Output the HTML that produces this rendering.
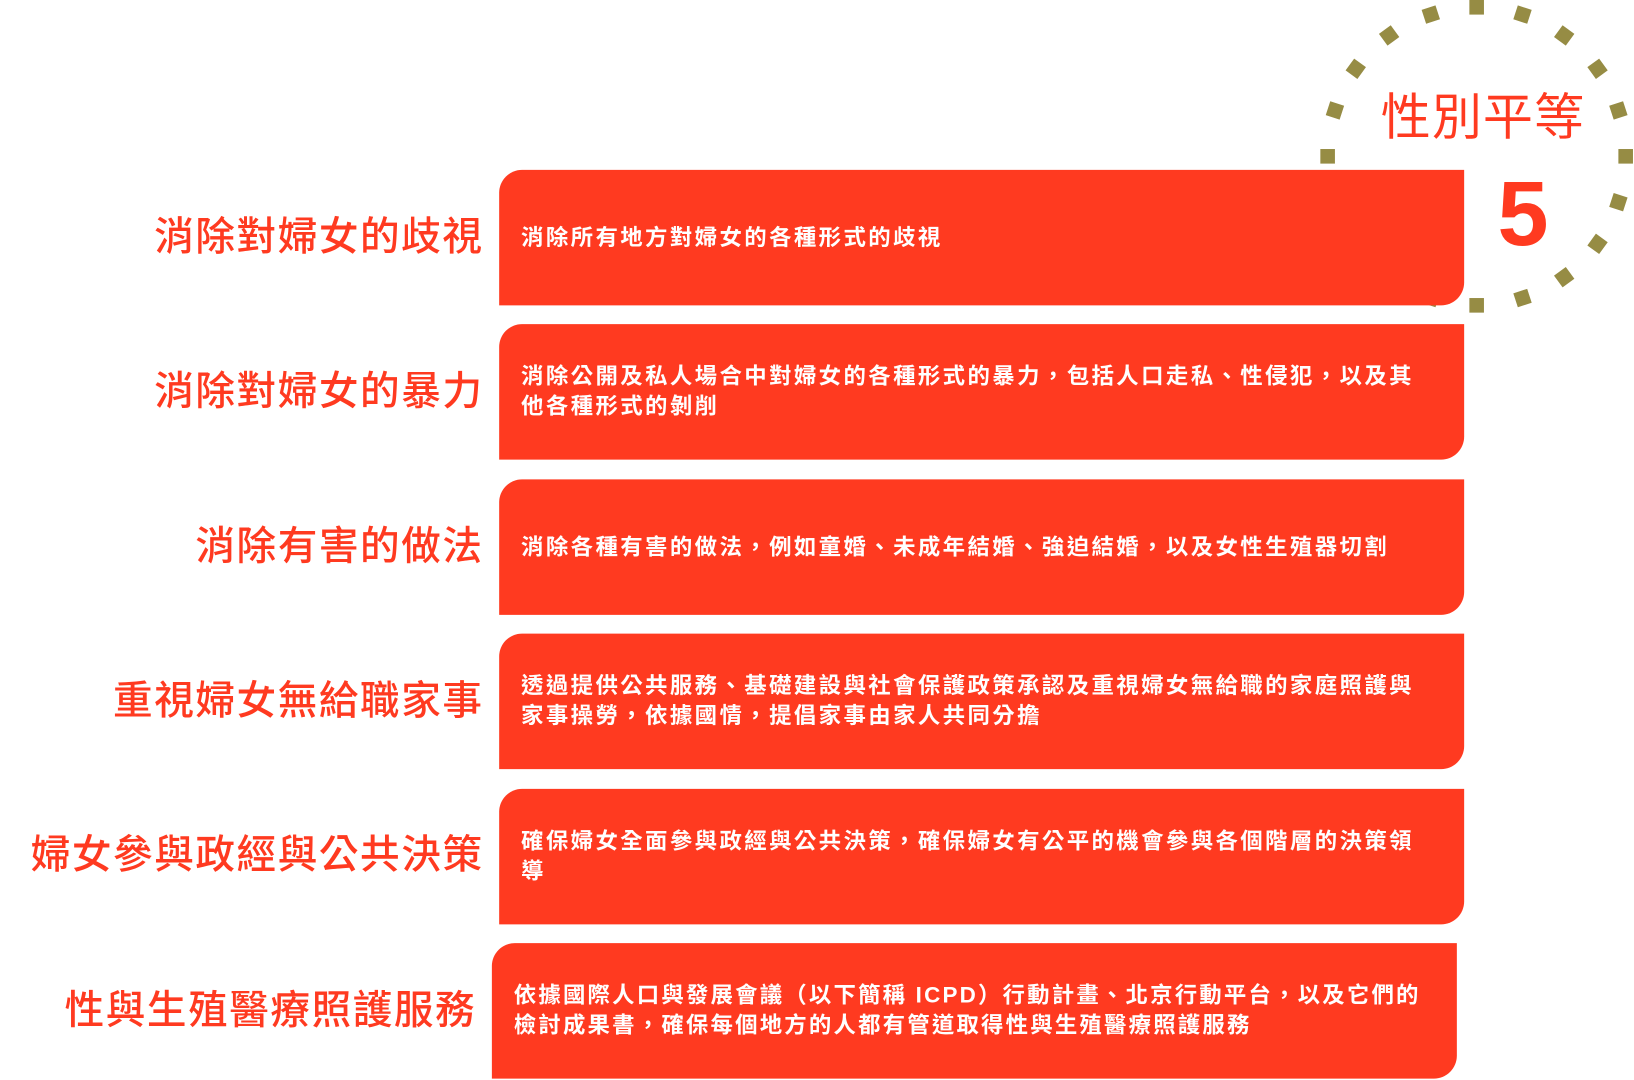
<!DOCTYPE html>
<html><head><meta charset="utf-8"><style>
body{margin:0;width:1634px;height:1079px;background:#fff;position:relative;overflow:hidden;font-family:"Liberation Sans","Noto Sans CJK TC",sans-serif;}
#wrap{position:absolute;left:0;top:0;width:1568px;height:1036px;transform:scale(1.0421);transform-origin:0 0;}
.lab{position:absolute;right:0;width:470px;text-align:right;color:#ff3a20;font-size:38px;letter-spacing:1.5px;line-height:40px;font-weight:500;}
.box{position:absolute;width:926px;height:130px;background:#ff3a20;border-radius:22px 0 22px 0;display:flex;align-items:center;box-sizing:border-box;padding:0 36px 0 21px;color:#fff;font-size:21.5px;letter-spacing:2.3px;line-height:29px;font-weight:bold;}
.dot{position:absolute;width:14px;height:14px;background:#968c44;}
</style></head><body>
<div id="wrap">
<div id="dots"></div>
<div style="position:absolute;left:1325px;top:84px;font-size:48px;color:#ff3a20;letter-spacing:1px;line-height:60px;">性別平等</div>
<div style="position:absolute;left:1437px;top:160px;font-size:88px;font-weight:bold;color:#ff3a20;line-height:90px;">5</div>

<div class="lab" style="left:-6px;top:208px;width:470px;">消除對婦女的歧視</div>
<div class="box" style="left:479px;top:163px;">消除所有地方對婦女的各種形式的歧視</div>

<div class="lab" style="left:-6px;top:356px;width:470px;">消除對婦女的暴力</div>
<div class="box" style="left:479px;top:311px;">消除公開及私人場合中對婦女的各種形式的暴力，包括人口走私、性侵犯，以及其他各種形式的剝削</div>

<div class="lab" style="left:-6px;top:505px;width:470px;">消除有害的做法</div>
<div class="box" style="left:479px;top:460px;">消除各種有害的做法，例如童婚、未成年結婚、強迫結婚，以及女性生殖器切割</div>

<div class="lab" style="left:-6px;top:653px;width:470px;">重視婦女無給職家事</div>
<div class="box" style="left:479px;top:608px;">透過提供公共服務、基礎建設與社會保護政策承認及重視婦女無給職的家庭照護與家事操勞，依據國情，提倡家事由家人共同分擔</div>

<div class="lab" style="left:-6px;top:801px;width:470px;">婦女參與政經與公共決策</div>
<div class="box" style="left:479px;top:757px;">確保婦女全面參與政經與公共決策，確保婦女有公平的機會參與各個階層的決策領導</div>

<div class="lab" style="left:-13px;top:950px;width:470px;">性與生殖醫療照護服務</div>
<div class="box" style="left:472px;top:905px;padding-right:24px;letter-spacing:2.1px;">依據國際人口與發展會議（以下簡稱 ICPD）行動計畫、北京行動平台，以及它們的檢討成果書，確保每個地方的人都有管道取得性與生殖醫療照護服務</div>
</div>
<script>
var h='';for(var i=0;i<20;i++){var a=i*18*Math.PI/180;var x=1417+143*Math.sin(a),y=150-143*Math.cos(a);
h+='<div class="dot" style="left:'+(x-7)+'px;top:'+(y-7)+'px;transform:rotate('+(i*18)+'deg)"></div>';}
document.getElementById('dots').innerHTML=h;
</script>
</body></html>
